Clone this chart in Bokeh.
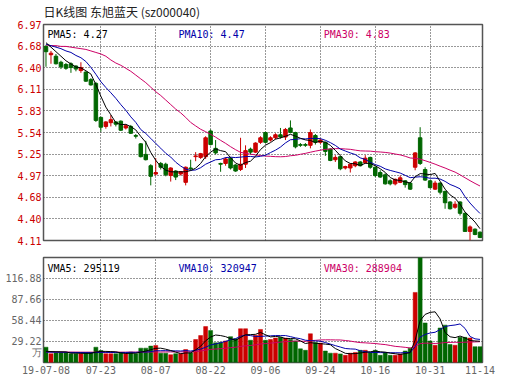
from bokeh.plotting import figure
from bokeh.layouts import column
from bokeh.models import Range1d, FixedTicker, Label, ColumnDataSource
from bokeh.embed import file_html
from bokeh.resources import INLINE

title_text = "日K线图 东旭蓝天 (sz000040)"
x_tick_idx = [0, 11, 22, 33, 44, 55, 66, 77, 87]
x_tick_labels = ["19-07-08", "07-23", "08-07", "08-22", "09-06", "09-24", "10-16", "10-31", "11-14"]
price_ticks = [4.11, 4.40, 4.68, 4.97, 5.25, 5.54, 5.83, 6.11, 6.40, 6.68, 6.97]
price_tick_labels = ["4.11", "4.40", "4.68", "4.97", "5.25", "5.54", "5.83", "6.11", "6.40", "6.68", "6.97"]
vol_ticks = [29.22, 58.44, 87.66, 116.88]
vol_tick_labels = ["29.22", "58.44", "87.66", "116.88"]
vol_max = 146.1
vol_unit = "万"
price_legend = ["PMA5: 4.27", "PMA10: 4.47", "PMA30: 4.83"]
vol_legend = ["VMA5: 295119", "VMA10: 320947", "VMA30: 288904"]

open_ = [6.68, 6.57, 6.55, 6.47, 6.44, 6.45, 6.42, 6.36, 6.34, 6.24,
         6.19, 5.74, 5.62, 5.67, 5.68, 5.69, 5.60, 5.62, 5.50, 5.39,
         5.25, 5.10, 4.99, 5.13, 5.12, 4.97, 5.03, 4.99, 4.88, 5.07,
         5.22, 5.21, 5.22, 5.56, 5.33, 5.13, 5.13, 5.20, 5.11, 5.05,
         5.12, 5.32, 5.28, 5.41, 5.54, 5.44, 5.47, 5.51, 5.48, 5.60,
         5.54, 5.38, 5.38, 5.37, 5.50, 5.41, 5.41, 5.32, 5.18, 5.22,
         5.07, 5.07, 5.10, 5.15, 5.14, 5.21, 5.08, 5.01, 4.98, 4.90,
         4.86, 4.88, 4.90, 4.87, 5.08, 5.47, 5.05, 4.90, 4.79, 4.87,
         4.76, 4.62, 4.55, 4.62, 4.47, 4.23, 4.26, 4.22]
high = [6.70, 6.62, 6.58, 6.49, 6.46, 6.47, 6.43, 6.47, 6.35, 6.26,
        6.21, 5.75, 5.69, 5.77, 5.69, 5.70, 5.65, 5.64, 5.52, 5.40,
        5.43, 5.12, 5.20, 5.15, 5.14, 5.08, 5.04, 5.03, 5.09, 5.18,
        5.28, 5.27, 5.49, 5.58, 5.44, 5.14, 5.21, 5.21, 5.12, 5.47,
        5.37, 5.34, 5.41, 5.49, 5.55, 5.49, 5.53, 5.60, 5.60, 5.70,
        5.55, 5.40, 5.40, 5.58, 5.52, 5.46, 5.42, 5.33, 5.24, 5.23,
        5.10, 5.13, 5.16, 5.16, 5.24, 5.22, 5.09, 5.04, 5.00, 4.92,
        4.93, 4.97, 4.91, 4.88, 5.28, 5.61, 5.08, 4.91, 4.90, 4.88,
        4.77, 4.63, 4.63, 4.63, 4.48, 4.31, 4.27, 4.23]
low = [6.41, 6.45, 6.44, 6.38, 6.37, 6.33, 6.35, 6.33, 6.21, 6.16,
       5.68, 5.55, 5.59, 5.62, 5.62, 5.56, 5.58, 5.52, 5.46, 5.21,
       5.17, 4.84, 4.97, 5.05, 4.96, 4.89, 4.91, 4.97, 4.84, 5.04,
       5.16, 5.19, 5.19, 5.37, 5.25, 5.02, 5.10, 5.05, 5.02, 5.03,
       5.07, 5.25, 5.27, 5.39, 5.40, 5.42, 5.45, 5.46, 5.44, 5.53,
       5.33, 5.35, 5.35, 5.33, 5.38, 5.39, 5.23, 5.16, 5.15, 5.04,
       5.05, 5.01, 5.08, 5.09, 5.13, 5.06, 4.95, 4.94, 4.85, 4.84,
       4.84, 4.87, 4.81, 4.78, 5.04, 5.11, 4.90, 4.80, 4.78, 4.72,
       4.53, 4.52, 4.53, 4.44, 4.23, 4.11, 4.18, 4.14]
close = [6.61, 6.59, 6.45, 6.41, 6.39, 6.40, 6.38, 6.40, 6.22, 6.17,
         5.70, 5.61, 5.68, 5.71, 5.65, 5.57, 5.63, 5.53, 5.49, 5.22,
         5.18, 4.96, 5.01, 5.08, 4.98, 5.07, 4.95, 5.02, 5.08, 5.06,
         5.23, 5.26, 5.47, 5.38, 5.27, 5.12, 5.19, 5.07, 5.03, 5.12,
         5.30, 5.28, 5.40, 5.47, 5.41, 5.47, 5.51, 5.48, 5.58, 5.54,
         5.35, 5.37, 5.37, 5.54, 5.41, 5.44, 5.29, 5.17, 5.21, 5.06,
         5.09, 5.12, 5.15, 5.10, 5.20, 5.08, 4.97, 4.95, 4.86, 4.86,
         4.92, 4.94, 4.85, 4.79, 5.27, 5.13, 4.91, 4.81, 4.87, 4.75,
         4.61, 4.53, 4.59, 4.47, 4.23, 4.29, 4.19, 4.15]
volume = [21.3, 12.2, 13.5, 13.5, 13.5, 12.2, 12.2, 12.2, 13.5, 13.5,
          21.3, 16.7, 12.2, 12.2, 12.2, 13.5, 12.2, 14.4, 12.2, 20.0,
          20.0, 22.8, 23.7, 13.0, 13.0, 10.8, 12.2, 12.2, 18.1, 13.5,
          32.0, 37.5, 50.0, 44.4, 27.4, 28.0, 30.0, 36.0, 33.0, 47.0,
          47.0, 31.0, 38.0, 46.0, 31.0, 32.0, 34.0, 35.0, 34.0, 32.0,
          30.0, 19.0, 17.0, 40.0, 28.0, 27.0, 16.0, 13.0, 13.0, 12.0,
          10.0, 13.0, 14.0, 17.0, 17.0, 14.0, 17.0, 10.0, 14.0, 10.0,
          10.0, 12.0, 16.0, 20.0, 97.5, 146.1, 55.0, 30.0, 24.0, 48.0,
          52.0, 25.0, 24.0, 35.0, 35.0, 34.0, 22.0, 22.0]

# moving-average values before enough history exists in the window
ma5_head = [6.73, 6.67, 6.61, 6.55]
ma10_head = [6.71, 6.69, 6.67, 6.65, 6.62, 6.60, 6.56, 6.53, 6.48]
ma30_head = [6.70, 6.69, 6.69, 6.68, 6.68, 6.67, 6.66, 6.65, 6.64, 6.62,
             6.60, 6.58, 6.55, 6.50, 6.46, 6.43, 6.39, 6.35, 6.30, 6.25,
             6.20, 6.14, 6.08, 6.03, 5.97, 5.91, 5.85, 5.80, 5.74]
vma5_head = [15.6, 15.2, 15.0, 14.9]
vma10_head = [14.5, 14.4, 14.3, 14.2, 14.1, 14.0, 13.9, 13.9, 13.8]
vma30_head = [14.6, 14.6, 14.6, 14.5, 14.5, 14.5, 14.5, 14.4, 14.4, 14.4,
              14.4, 14.4, 14.4, 14.4, 14.4, 14.4, 14.4, 14.5, 14.5, 14.5,
              14.5, 14.6, 14.6, 14.6, 14.7, 14.7, 14.7, 14.8, 14.8]


def rolling(vals, n, head):
    out = list(head)
    for i in range(len(head), len(vals)):
        out.append(sum(vals[i - n + 1:i + 1]) / n)
    return out


n = len(close)
idx = list(range(n))
RED = "#cc0000"
GREEN = "#006600"
C5, C10, C30 = "#000000", "#0000aa", "#cc0066"
MONO = "DejaVu Sans Mono"
CJK = "Noto Sans CJK SC"
GRID = "#333333"

colors = [RED if c > o else GREEN for o, c in zip(open_, close)]
src = ColumnDataSource(dict(
    x=idx, high=high, low=low,
    top=[max(o, c) for o, c in zip(open_, close)],
    bottom=[min(o, c) for o, c in zip(open_, close)],
    color=colors, vol=volume,
))

ma5 = rolling(close, 5, ma5_head)
ma10 = rolling(close, 10, ma10_head)
ma30 = rolling(close, 30, ma30_head)
vma5 = rolling(volume, 5, vma5_head)
vma10 = rolling(volume, 10, vma10_head)
vma30 = rolling(volume, 30, vma30_head)


def style(p, yticks, overrides, ycolor, grid_ticks):
    p.outline_line_color = "#555555"
    p.outline_line_width = 1.5
    p.background_fill_color = "white"
    p.border_fill_color = "white"
    p.yaxis.ticker = FixedTicker(ticks=yticks)
    p.yaxis.major_label_overrides = overrides
    p.yaxis.major_label_text_color = ycolor
    p.yaxis.major_label_text_font = MONO
    p.yaxis.major_label_text_font_size = "10px"
    p.yaxis.major_tick_line_color = None
    p.yaxis.major_tick_out = 0
    p.yaxis.major_tick_in = 0
    p.yaxis.minor_tick_line_color = None
    p.yaxis.axis_line_color = None
    p.yaxis.major_label_standoff = 2
    p.xgrid.ticker = FixedTicker(ticks=x_tick_idx[1:-1])
    p.xgrid.grid_line_color = GRID
    p.xgrid.grid_line_dash = "1 2"
    p.ygrid.ticker = FixedTicker(ticks=grid_ticks)
    p.ygrid.grid_line_color = GRID
    p.ygrid.grid_line_dash = "1 2"


# ---------------- price panel ----------------
p1 = figure(width=530, height=248, output_backend="svg", toolbar_location=None,
            x_range=Range1d(-0.5, n - 0.5), y_range=Range1d(4.11, 6.97),
            x_axis_location=None, min_border_left=43, min_border_right=48,
            min_border_top=22, min_border_bottom=8)
style(p1, price_ticks, {t: l for t, l in zip(price_ticks, price_tick_labels)}, RED,
      price_ticks[1:-1])
p1.title.text = title_text
p1.title.text_font = CJK
p1.title.text_font_size = "12px"
p1.title.text_font_style = "normal"
p1.title.text_color = "#222222"
p1.title.align = "left"
p1.title.vertical_align = "top"
p1.title.standoff = 5

p1.segment(x0="x", y0="low", x1="x", y1="high", color="color", line_width=1, source=src)
p1.vbar(x="x", width=0.7, top="top", bottom="bottom", fill_color="color",
        line_color="color", line_width=1, source=src)
p1.line(idx, ma30, color=C30, line_width=1)
p1.line(idx, ma10, color=C10, line_width=1)
p1.line(idx, ma5, color=C5, line_width=1)

for txt, xx, col in zip(price_legend, [0.3, 26.55, 55.66], [C5, C10, C30]):
    p1.add_layout(Label(x=xx, y=6.835, text=txt, text_font=MONO, text_font_size="10px",
                        text_color=col, text_baseline="middle", text_align="left"))

# ---------------- volume panel ----------------
unit_pos = 13.3
p2 = figure(width=530, height=143, output_backend="svg", toolbar_location=None,
            x_range=p1.x_range, y_range=Range1d(0, vol_max),
            min_border_left=43, min_border_right=48, min_border_top=9, min_border_bottom=29)
vol_over = {t: l for t, l in zip(vol_ticks, vol_tick_labels)}
vol_over[unit_pos] = vol_unit
style(p2, [unit_pos] + vol_ticks, vol_over, "#666666", vol_ticks)
p2.xaxis.ticker = FixedTicker(ticks=x_tick_idx)
p2.xaxis.major_label_overrides = {t: l for t, l in zip(x_tick_idx, x_tick_labels)}
p2.xaxis.major_label_text_color = "#666666"
p2.xaxis.major_label_text_font = MONO
p2.xaxis.major_label_text_font_size = "10px"
p2.xaxis.major_tick_line_color = None
p2.xaxis.major_tick_out = 0
p2.xaxis.major_tick_in = 0
p2.xaxis.minor_tick_line_color = None
p2.xaxis.axis_line_color = None
p2.xaxis.major_label_standoff = 3

p2.vbar(x="x", width=0.8, top="vol", bottom=0, fill_color="color", line_color="color",
        line_width=0.5, source=src)
p2.line(idx, vma30, color=C30, line_width=1)
p2.line(idx, vma10, color=C10, line_width=1)
p2.line(idx, vma5, color=C5, line_width=1)

for txt, xx, col in zip(vol_legend, [0.3, 26.55, 55.66], [C5, C10, C30]):
    p2.add_layout(Label(x=xx, y=131, text=txt, text_font=MONO, text_font_size="10px",
                        text_color=col, text_baseline="middle", text_align="left"))

layout = column(p1, p2, spacing=0)
open("out.html", "w").write(file_html(layout, INLINE))
